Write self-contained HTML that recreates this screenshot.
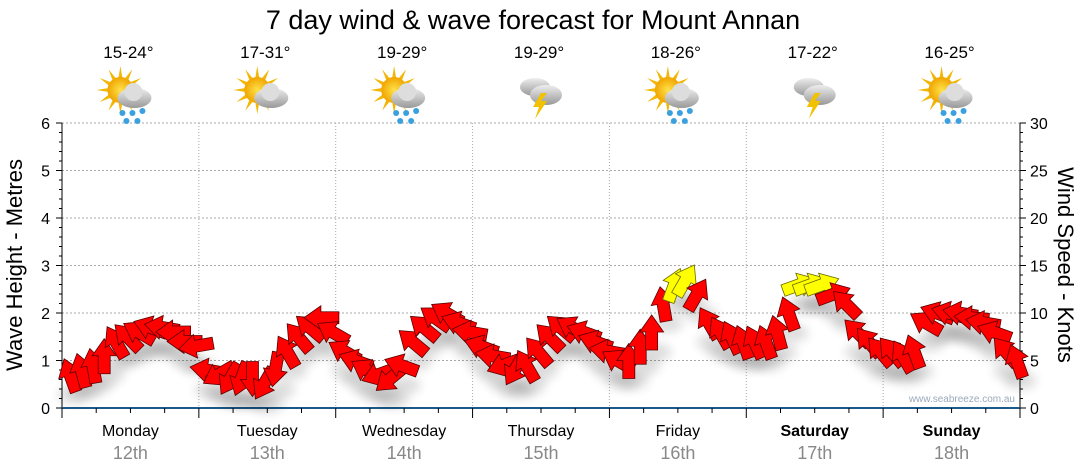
<!DOCTYPE html>
<html><head><meta charset="utf-8">
<style>
body{margin:0;background:#fff;}
svg{display:block;font-family:"Liberation Sans",sans-serif;}
</style></head>
<body>
<svg id="chart" width="1080" height="475" viewBox="0 0 1080 475">
<defs>
<filter id="shadow" x="-50%" y="-50%" width="200%" height="200%">
<feGaussianBlur stdDeviation="5"/>
</filter>
<radialGradient id="sunG"><stop offset="0" stop-color="#ffe14a"/><stop offset="1" stop-color="#f0a500"/></radialGradient>
<linearGradient id="cloudG" x1="0" y1="0" x2="0" y2="1"><stop offset="0" stop-color="#eee"/><stop offset="1" stop-color="#999"/></linearGradient>
</defs>
<text x="533" y="29" text-anchor="middle" font-size="27" fill="#000">7 day wind &amp; wave forecast for Mount Annan</text>
<text transform="translate(22,265) rotate(-90)" text-anchor="middle" font-size="22" fill="#000">Wave Height - Metres</text>
<text transform="translate(1058,265) rotate(90)" text-anchor="middle" font-size="22" fill="#000">Wind Speed - Knots</text>
<text x="1015" y="402" text-anchor="end" font-size="10" fill="#9aaabb">www.seabreeze.com.au</text>
<g id="grid"></g>
<g id="axes"></g>
<g id="top"></g>
<g id="shadows"></g>
<g id="arrows"></g>
</svg>
<script>
const days = ['Monday','Tuesday','Wednesday','Thursday','Friday','Saturday','Sunday'];
const dates = ['12th','13th','14th','15th','16th','17th','18th'];
const temps = ['15-24°','17-31°','19-29°','19-29°','18-26°','17-22°','16-25°'];
const icons = ['rain','cloud','rain','storm','rain','storm','rain'];
const leftTicks = [0,1,2,3,4,5,6];
const rightTicks = [0,5,10,15,20,25,30];
// wind speed (knots), 2-hourly
const windSpeed = [
3.5,4,4.5,5.5,7,7.5,8,8.5,8.5,8,7,6.5,
4,3.5,3,3,3,2.5,4,6,7.5,8.5,9.5,8,
6,5,4,3.5,3,4.5,7,8.5,9.5,10,9,8,
6.5,5.5,4.5,4,4.5,6,7.5,8.5,8.5,8,7,6,
5,5,6.5,8,11,13,13.5,12,9,8,7.5,7,
7,7,8,10,13,13,13,12,11,8,7,6,
6,5.5,6,9,10,10,10,9.5,9,8,6,5];
// direction arrow points to (degrees, 0 = up, clockwise)
const windDir = [
-20,-15,-10,0,-30,-45,-60,-70,-80,-90,-90,-100,
-80,-120,-150,-160,-180,-150,-170,-30,-40,-50,-90,-60,
-60,-70,-60,-110,-130,-70,-50,-50,-55,-60,-70,-80,
-70,-80,-110,-150,-30,-40,-45,-50,-60,-70,-70,-80,
-60,0,0,0,-10,20,30,30,-30,-30,-25,-20,
-25,-20,-15,-20,70,70,70,70,-45,-45,-40,-40,
-40,-30,-20,-60,-70,-75,-80,-85,-80,-70,-40,-20];

const NS='http://www.w3.org/2000/svg';
const X0=62,X1=1020,Y0=408,Y1=123;
const dayW=(X1-X0)/7;
const yM=m=>Y0-(m/6)*(Y0-Y1);
const yK=k=>Y0-(k/30)*(Y0-Y1);
const xT=i=>X0+(i+0.7)*(X1-X0)/windSpeed.length;
function mk(tag,attrs,parent){const e=document.createElementNS(NS,tag);for(const k in attrs)e.setAttribute(k,attrs[k]);parent.appendChild(e);return e;}
const grid=document.getElementById('grid'),axes=document.getElementById('axes'),top_=document.getElementById('top');

leftTicks.forEach(v=>{
  if(v>0){const l=mk('line',{x1:X0,x2:X1,y1:yM(v),y2:yM(v),stroke:'#aaa','stroke-dasharray':'2,2'},grid);
  
  }
  const t=mk('text',{x:X0-12,y:yM(v)+6,'text-anchor':'end','font-size':16,fill:'#000'},axes);t.textContent=v;
  
  
  mk('line',{x1:X0-6,x2:X0,y1:yM(v),y2:yM(v),stroke:'#000'},axes);
});
for(let m=0;m<6;m+=0.2){mk('line',{x1:X0-3,x2:X0,y1:yM(m),y2:yM(m),stroke:'#000'},axes);}
rightTicks.forEach(v=>{
  const t=mk('text',{x:X1+10,y:yK(v)+6,'font-size':16,fill:'#000'},axes);t.textContent=v;
  
  
  mk('line',{x1:X1,x2:X1+6,y1:yK(v),y2:yK(v),stroke:'#000'},axes);
});
for(let k=0;k<30;k+=1){mk('line',{x1:X1,x2:X1+3,y1:yK(k),y2:yK(k),stroke:'#000'},axes);}
mk('line',{x1:X0,x2:X0,y1:Y1,y2:Y0,stroke:'#000'},axes);
mk('line',{x1:X1,x2:X1,y1:Y1,y2:Y0,stroke:'#000'},axes);
mk('line',{x1:X0,x2:X1,y1:Y0,y2:Y0,stroke:'#1a5a8a','stroke-width':2},axes);
for(let d=0;d<=7;d++){
  const x=X0+d*dayW;
  if(d>0&&d<7){const l=mk('line',{x1:x,x2:x,y1:Y1,y2:Y0,stroke:'#aaa','stroke-dasharray':'1,2'},grid);
  
  }
  mk('line',{x1:x,x2:x,y1:Y0,y2:Y0+10,stroke:'#000'},axes);
  for(let q=1;q<4&&d<7;q++)mk('line',{x1:x+q*dayW/4,x2:x+q*dayW/4,y1:Y0,y2:Y0+5,stroke:'#000'},axes);
}
days.forEach((d,i)=>{
  const cx=X0+(i+0.5)*dayW;
  const t=mk('text',{x:cx,y:436,'text-anchor':'middle','font-size':16,fill:'#000','font-weight':i>=5?'bold':'normal'},axes);t.textContent=d;
  
  
  const t2=mk('text',{x:cx,y:459,'text-anchor':'middle','font-size':18,fill:'#888'},axes);t2.textContent=dates[i];
  
  
  const t3=mk('text',{x:cx-2,y:58,'text-anchor':'middle','font-size':17,fill:'#000'},top_);t3.textContent=temps[i];
  
  
  const g=mk('g',{transform:`translate(${cx-2},95)`},top_);
  
  
  if(icons[i]!=='storm'){
    for(let a=0;a<12;a++){const r=a*30*Math.PI/180;mk('polygon',{points:`${-8+Math.cos(r)*24},${-5+Math.sin(r)*24} ${-8+Math.cos(r+0.2)*11},${-5+Math.sin(r+0.2)*11} ${-8+Math.cos(r-0.2)*11},${-5+Math.sin(r-0.2)*11}`,fill:'#f2b705'},g);}
    mk('circle',{cx:-8,cy:-5,r:13,fill:'url(#sunG)'},g);
    mk('ellipse',{cx:6,cy:3,rx:17,ry:10,fill:'url(#cloudG)'},g);
    mk('circle',{cx:5,cy:-3,r:9,fill:'#ddd'},g);
  } else {
    mk('ellipse',{cx:-4,cy:-8,rx:15,ry:9,fill:'url(#cloudG)'},g);
    mk('ellipse',{cx:7,cy:0,rx:16,ry:10,fill:'url(#cloudG)'},g);
    mk('polygon',{points:'2,-2 -6,12 0,12 -4,24 8,6 2,6 8,-2',fill:'#f2c200'},g);
  }
  if(icons[i]==='rain'){[[-6,18],[4,18],[14,16],[-2,26],[9,26]].forEach(p=>mk('circle',{cx:p[0],cy:p[1],r:3,fill:'#3aa0e0'},g));}
});

const shadows=document.getElementById('shadows'),arrows=document.getElementById('arrows');
const shape='M-6,18 L-6,0 L-12,0 L0,-17 L12,0 L6,0 L6,18 Z';
windSpeed.forEach((k,i)=>{
  const x=xT(i),y=yK(k);
  const s=mk('ellipse',{cx:x+4,cy:y+20,rx:16,ry:9,fill:'#000',opacity:0.13,filter:'url(#shadow)'},shadows);
  
  
});
windSpeed.forEach((k,i)=>{
  const x=xT(i),y=yK(k);
  const p=mk('path',{d:shape,transform:`translate(${x},${y}) rotate(${windDir[i]})`,fill:k>=12.5?'#ffff00':'#ff0000',stroke:k>=12.5?'#6a6a00':'#5a0000','stroke-width':0.8},arrows);
  
  
});
</script>
</body></html>
